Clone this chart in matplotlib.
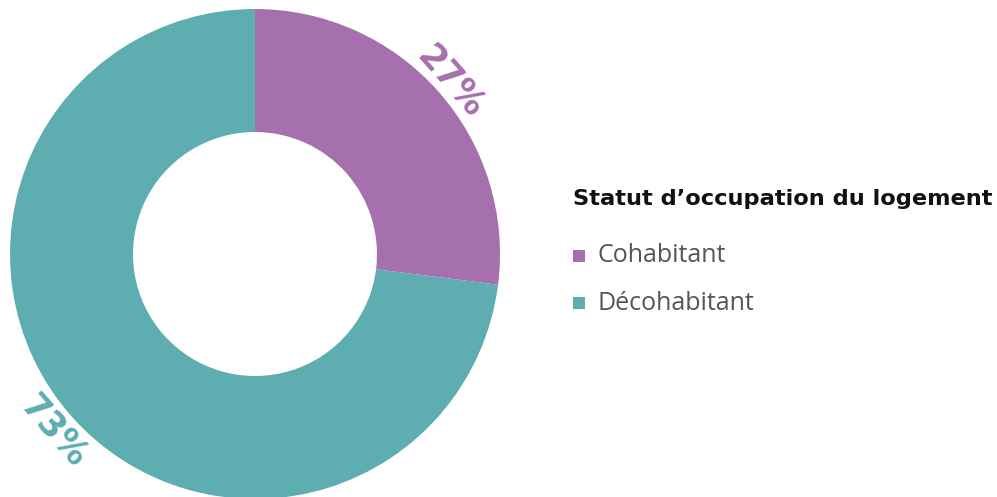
import numpy as np
import matplotlib
matplotlib.use('Agg')
import matplotlib.pyplot as plt
from matplotlib.patches import Rectangle

# data
categories = ["Cohabitant", "Décohabitant"]
shares = [27, 73]
colors = ["#a66fad", "#5eadb1"]
legend_title = "Statut d\u2019occupation du logement"

W, H = 997, 497
fig = plt.figure(figsize=(W / 100, H / 100), dpi=100)
ax = fig.add_axes([0, 0, 1, 1])

cx, cy = 255, H - 254
R_out, ring = 245, 123
wedges, _ = ax.pie(shares, colors=colors, startangle=90, counterclock=False,
                   center=(cx, cy), radius=R_out, frame=True,
                   wedgeprops=dict(width=ring, edgecolor='none'))
ax.set_xlim(0, W); ax.set_ylim(0, H)
ax.set_aspect('equal'); ax.axis('off')

# percent labels, rotated along the outer edge at the middle of each wedge
start = 90.0
total = float(sum(shares))
for v, c in zip(shares, colors):
    sweep = 360.0 * v / total
    mid = start - sweep / 2
    th = np.radians(mid)
    r = R_out + 19
    x, y = cx + r * np.cos(th), cy + r * np.sin(th)
    rot = (mid - 90) % 360
    if 90 < rot < 270:
        rot -= 180
    ax.text(x, y, f"{v}%", color=c, fontsize=25, fontweight='bold',
            family='DejaVu Sans', ha='center', va='center_baseline',
            rotation=rot, rotation_mode='anchor')
    start -= sweep

# legend (placed by hand in pixel coordinates)
ax.text(573, H - 199, legend_title, fontsize=16.2, fontweight='bold',
        family='DejaVu Sans', color='#111111', ha='left', va='center')
for i, (lab, c) in enumerate(zip(categories, colors)):
    yy = H - (256 + 47 * i)
    ax.add_patch(Rectangle((573, yy - 6), 12, 12, facecolor=c, edgecolor='none'))
    ax.text(597, yy, lab, fontsize=18, family='Open Sans', color='#555555',
            ha='left', va='center')

fig.savefig("out.png", dpi=100, facecolor='white')
